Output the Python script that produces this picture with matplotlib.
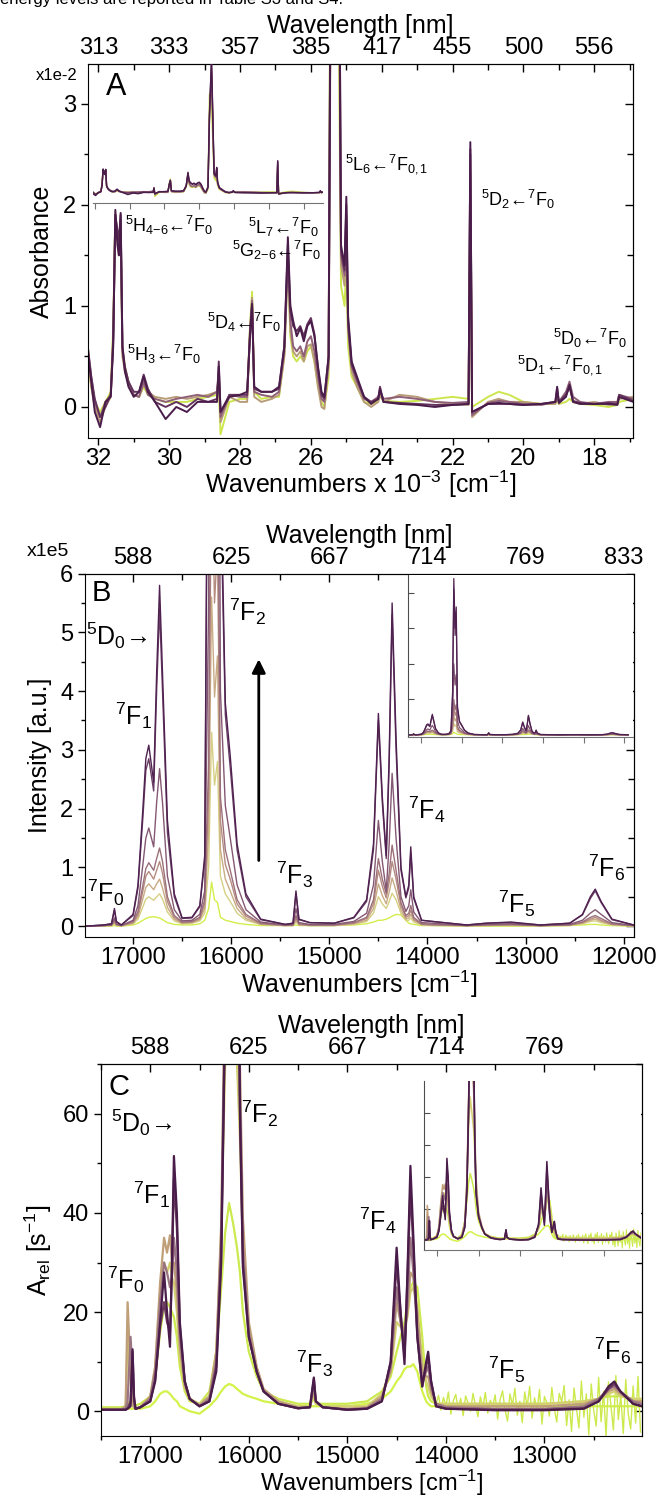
import numpy as np
import matplotlib
matplotlib.use("Agg")
import matplotlib.pyplot as plt
from matplotlib.ticker import MultipleLocator, NullLocator

plt.rcParams['font.family'] = ['Liberation Sans', 'DejaVu Sans']
plt.rcParams['mathtext.fontset'] = 'custom'
plt.rcParams['mathtext.rm'] = 'Liberation Sans'
plt.rcParams['mathtext.it'] = 'Liberation Sans:italic'
plt.rcParams['mathtext.bf'] = 'Liberation Sans:bold'

# ---------------- panel A: absorbance (x1e-2), wavenumber x 1e-3 ----------------
a_wn = [32.3, 32.2, 32.1, 31.95, 31.8, 31.65, 31.58, 31.52,
        31.46, 31.42, 31.37, 31.32, 31.25, 31.15, 31.0, 30.85,
        30.72, 30.6, 30.4, 30.1, 29.8, 29.5, 29.2, 28.9,
        28.65, 28.6, 28.55, 28.3, 28.0, 27.8, 27.72, 27.66,
        27.6, 27.4, 27.1, 26.9, 26.75, 26.65, 26.58, 26.5,
        26.4, 26.3, 26.2, 26.1, 26.0, 25.9, 25.8, 25.7,
        25.62, 25.5, 25.42, 25.3, 25.22, 25.15, 25.05, 25.0,
        24.95, 24.85, 24.7, 24.5, 24.3, 24.1, 24.05, 23.95,
        23.5, 23.0, 22.5, 22.0, 21.55, 21.5, 21.45, 21.0,
        20.7, 20.4, 20.0, 19.5, 19.1, 19.05, 19.0, 18.8,
        18.7, 18.6, 18.4, 18.0, 17.6, 17.35, 17.3, 16.9]

a_yellow = [0.5, 0.2, 0.05, -0.05, 0.05, 0.15, 0.8, 1.9,
            1.7, 1.6, 1.75, 0.55, 0.4, 0.25, 0.12, 0.1,
            0.2, 0.12, 0.08, 0.05, 0.05, 0.05, 0.08, 0.1,
            0.12, 0.2, -0.27, 0.05, 0.08, 0.08, 0.8, 1.14,
            0.15, 0.08, 0.1, 0.1, 0.5, 1.45, 0.7, 0.5,
            0.45, 0.5, 0.45, 0.55, 0.6, 0.45, 0.2, 0.05,
            0.0, 0.3, 8.0, 7.0, 4.0, 1.2, 1.0, 1.4,
            0.6, 0.3, 0.2, 0.05, 0.03, 0.06, 0.12, 0.06,
            0.05, 0.06, 0.08, 0.1, 0.08, 2.0, 0.0, 0.1,
            0.15, 0.12, 0.05, 0.03, 0.03, 0.08, 0.03, 0.05,
            0.08, 0.05, 0.03, 0.02, 0.0, 0.02, 0.05, 0.08]
a_tan = [0.5, 0.2, 0.0, -0.15, 0.0, 0.1, 0.7, 1.85,
         1.65, 1.5, 1.8, 0.5, 0.35, 0.25, 0.12, 0.1,
         0.22, 0.15, 0.1, 0.08, 0.1, 0.08, 0.1, 0.12,
         0.15, 0.35, -0.15, 0.1, 0.05, 0.05, 0.75, 1.08,
         0.1, 0.05, 0.08, 0.12, 0.5, 1.45, 0.75, 0.55,
         0.5, 0.55, 0.45, 0.6, 0.62, 0.45, 0.2, 0.0,
         -0.02, 0.4, 5.5, 9.5, 5.0, 1.4, 1.2, 1.7,
         0.75, 0.35, 0.2, 0.05, 0.0, 0.05, 0.12, 0.05,
         0.12, 0.1, 0.05, 0.03, 0.02, 2.3, -0.1, 0.05,
         0.08, 0.05, 0.05, 0.03, 0.03, 0.1, 0.03, 0.12,
         0.2, 0.05, 0.03, 0.05, 0.02, 0.03, 0.08, 0.1]
a_mauve = [0.6, 0.3, 0.05, -0.1, 0.05, 0.12, 0.7, 1.9,
           1.7, 1.55, 1.85, 0.55, 0.38, 0.25, 0.12, 0.1,
           0.25, 0.12, 0.08, 0.05, 0.08, 0.1, 0.12, 0.1,
           0.15, 0.3, -0.1, 0.12, 0.1, 0.1, 0.75, 1.05,
           0.15, 0.12, 0.1, 0.15, 0.55, 1.5, 0.85, 0.6,
           0.55, 0.6, 0.5, 0.65, 0.7, 0.55, 0.3, 0.08,
           0.05, 0.45, 6.0, 10.0, 5.5, 1.5, 1.3, 1.9,
           0.8, 0.4, 0.25, 0.08, 0.05, 0.1, 0.15, 0.08,
           0.1, 0.08, 0.05, 0.04, 0.05, 2.5, -0.08, 0.04,
           0.06, 0.05, 0.03, 0.02, 0.05, 0.12, 0.05, 0.15,
           0.25, 0.1, 0.05, 0.03, 0.05, 0.05, 0.12, 0.08]
a_plum = [0.6, 0.3, 0.08, -0.1, 0.0, 0.12, 0.65, 1.9,
          1.75, 1.65, 1.9, 0.6, 0.4, 0.25, 0.15, 0.15,
          0.32, 0.18, 0.05, 0.0, 0.05, 0.0, 0.08, 0.05,
          0.08, 0.45, -0.05, 0.12, 0.12, 0.12, 0.7, 1.0,
          0.18, 0.15, 0.15, 0.18, 0.6, 1.6, 0.95, 0.8,
          0.75, 0.8, 0.7, 0.82, 0.88, 0.72, 0.38, 0.12,
          0.08, 0.5, 6.5, 10.5, 6.0, 1.55, 1.35, 2.0,
          0.85, 0.42, 0.28, 0.1, 0.05, 0.08, 0.2, 0.05,
          0.04, 0.03, 0.02, 0.02, 0.03, 2.55, -0.05, 0.03,
          0.03, 0.03, 0.02, 0.03, 0.05, 0.18, 0.05, 0.12,
          0.2, 0.06, 0.04, 0.03, 0.04, 0.03, 0.12, 0.06]
a_dark = [0.55, 0.25, -0.05, -0.2, 0.05, 0.1, 0.6, 1.95,
          1.6, 1.5, 1.92, 0.6, 0.35, 0.2, 0.1, 0.15,
          0.3, 0.15, 0.05, -0.12, 0.0, -0.05, 0.05, 0.05,
          0.05, 0.4, -0.05, 0.1, 0.12, 0.15, 0.7, 1.02,
          0.2, 0.15, 0.15, 0.2, 0.6, 1.68, 1.0, 0.85,
          0.7, 0.78, 0.65, 0.8, 0.85, 0.7, 0.4, 0.15,
          0.1, 0.5, 6.0, 11.0, 6.0, 1.6, 1.4, 2.08,
          0.9, 0.45, 0.3, 0.1, 0.03, 0.08, 0.18, 0.05,
          0.03, 0.02, 0.0, 0.02, 0.03, 2.62, -0.05, 0.03,
          0.04, 0.03, 0.02, 0.03, 0.05, 0.2, 0.04, 0.1,
          0.22, 0.05, 0.03, 0.03, 0.03, 0.02, 0.1, 0.05]
a_series = [a_yellow, a_tan, a_mauve, a_plum, a_dark]
a_colors = ['#cde64e', '#b89c78', '#8e5f76', '#63335c', '#4a1c4a']
a_ticks = [32, 30, 28, 26, 24, 22, 20, 18]
a_nm = ['313', '333', '357', '385', '417', '455', '500', '556']

# ---------------- panel B: emission intensity (x1e5) ----------------
b_wn = [17480, 17300, 17220, 17190, 17170, 17120, 17000, 16950,
        16900, 16870, 16840, 16790, 16760, 16730, 16700, 16650,
        16580, 16500, 16400, 16320, 16270, 16230, 16200, 16170,
        16140, 16110, 16060, 16010, 15940, 15850, 15700, 15450,
        15370, 15340, 15310, 15200, 14950, 14750, 14620, 14550,
        14500, 14460, 14420, 14390, 14360, 14320, 14270, 14220,
        14190, 14170, 14140, 14060, 13950, 13600, 13400, 13150,
        12850, 12550, 12420, 12340, 12290, 12230, 12120, 11900]

b_1 = [0.0, 0.0, 0.0, 0.01, 0.0, 0.0, 0.02, 0.05,
       0.1, 0.13, 0.15, 0.16, 0.15, 0.14, 0.11, 0.06,
       0.03, 0.02, 0.02, 0.04, 0.1, 0.3, 0.75, 0.45,
       0.4, 0.15, 0.1, 0.08, 0.05, 0.03, 0.01, 0.01,
       0.01, 0.02, 0.01, 0.01, 0.01, 0.02, 0.04, 0.07,
       0.1, 0.1, 0.12, 0.14, 0.17, 0.2, 0.19, 0.1,
       0.05, 0.04, 0.03, 0.01, 0.01, 0.0, 0.0, 0.0,
       0.0, 0.01, 0.02, 0.03, 0.03, 0.02, 0.01, 0.0]
b_2 = [0.0, 0.0, 0.01, 0.04, 0.01, 0.0, 0.04, 0.12,
       0.33, 0.46, 0.5, 0.44, 0.5, 0.55, 0.46, 0.24,
       0.09, 0.04, 0.05, 0.09, 0.22, 1.0, 3.3, 2.4,
       2.8, 0.85, 0.55, 0.42, 0.22, 0.1, 0.03, 0.01,
       0.01, 0.07, 0.02, 0.01, 0.01, 0.03, 0.08, 0.22,
       0.5, 0.38, 0.3, 0.42, 0.56, 0.45, 0.22, 0.1,
       0.1, 0.14, 0.07, 0.02, 0.01, 0.0, 0.01, 0.01,
       0.0, 0.01, 0.04, 0.08, 0.09, 0.06, 0.02, 0.0]
b_3 = [0.0, 0.01, 0.01, 0.06, 0.02, 0.01, 0.05, 0.16,
       0.47, 0.66, 0.72, 0.62, 0.72, 0.8, 0.65, 0.32,
       0.12, 0.05, 0.06, 0.11, 0.3, 1.6, 5.6, 3.9,
       4.6, 1.3, 0.8, 0.6, 0.3, 0.13, 0.03, 0.01,
       0.01, 0.1, 0.02, 0.01, 0.01, 0.04, 0.1, 0.3,
       0.72, 0.52, 0.38, 0.58, 0.82, 0.6, 0.28, 0.12,
       0.14, 0.2, 0.1, 0.03, 0.02, 0.01, 0.01, 0.02,
       0.01, 0.02, 0.05, 0.1, 0.12, 0.08, 0.03, 0.01]
b_4 = [0.0, 0.01, 0.02, 0.08, 0.02, 0.01, 0.06, 0.2,
       0.6, 0.85, 0.93, 0.8, 0.95, 1.1, 0.9, 0.42,
       0.15, 0.06, 0.07, 0.13, 0.38, 2.2, 8.0, 5.5,
       6.5, 1.8, 1.05, 0.8, 0.38, 0.17, 0.04, 0.01,
       0.02, 0.14, 0.03, 0.02, 0.02, 0.05, 0.13, 0.38,
       0.95, 0.68, 0.48, 0.75, 1.1, 0.8, 0.35, 0.15,
       0.18, 0.27, 0.12, 0.03, 0.02, 0.01, 0.02, 0.02,
       0.01, 0.02, 0.06, 0.12, 0.15, 0.1, 0.03, 0.01]
b_5 = [0.0, 0.01, 0.02, 0.1, 0.03, 0.01, 0.08, 0.25,
       0.7, 0.98, 1.08, 0.95, 1.15, 1.33, 1.1, 0.5,
       0.18, 0.07, 0.08, 0.15, 0.45, 2.8, 10.0, 7.0,
       8.5, 2.2, 1.3, 0.95, 0.45, 0.2, 0.05, 0.02,
       0.02, 0.18, 0.04, 0.02, 0.02, 0.06, 0.15, 0.45,
       1.15, 0.8, 0.55, 0.9, 1.38, 0.95, 0.4, 0.18,
       0.22, 0.35, 0.15, 0.04, 0.03, 0.01, 0.02, 0.03,
       0.01, 0.02, 0.07, 0.15, 0.18, 0.13, 0.04, 0.01]
b_6 = [0.0, 0.01, 0.02, 0.14, 0.04, 0.01, 0.1, 0.35,
       1.05, 1.5, 1.67, 1.35, 2.1, 2.68, 2.1, 0.85,
       0.28, 0.09, 0.1, 0.2, 0.6, 5.5, 20.0, 14.0,
       17.0, 4.0, 2.05, 1.5, 0.7, 0.28, 0.07, 0.02,
       0.03, 0.3, 0.06, 0.03, 0.03, 0.08, 0.22, 0.7,
       1.8, 1.1, 0.6, 1.4, 2.6, 1.5, 0.5, 0.25,
       0.35, 0.62, 0.24, 0.06, 0.05, 0.01, 0.03, 0.04,
       0.01, 0.03, 0.1, 0.22, 0.28, 0.2, 0.06, 0.01]
b_7 = [0.0, 0.02, 0.04, 0.27, 0.07, 0.02, 0.18, 0.65,
       1.85, 2.65, 2.85, 2.3, 4.0, 5.4, 4.0, 1.6,
       0.5, 0.13, 0.14, 0.33, 1.1, 11.0, 41.0, 28.0,
       33.0, 7.5, 3.6, 2.7, 1.3, 0.5, 0.11, 0.03,
       0.05, 0.55, 0.11, 0.06, 0.05, 0.14, 0.42, 1.3,
       3.5, 2.1, 1.15, 2.75, 5.3, 3.0, 0.95, 0.48,
       0.65, 1.25, 0.47, 0.1, 0.08, 0.02, 0.05, 0.06,
       0.02, 0.05, 0.19, 0.47, 0.6, 0.4, 0.11, 0.02]
b_8 = [0.0, 0.02, 0.04, 0.3, 0.08, 0.02, 0.2, 0.7,
       2.0, 2.85, 3.08, 2.45, 4.3, 5.8, 4.3, 1.8,
       0.55, 0.14, 0.15, 0.35, 1.2, 12.0, 44.0, 30.0,
       36.0, 8.0, 3.8, 2.9, 1.4, 0.55, 0.12, 0.03,
       0.05, 0.6, 0.12, 0.06, 0.05, 0.15, 0.45, 1.4,
       3.62, 2.2, 1.2, 2.9, 5.5, 3.2, 1.0, 0.5,
       0.7, 1.35, 0.5, 0.1, 0.08, 0.02, 0.05, 0.07,
       0.02, 0.05, 0.2, 0.5, 0.63, 0.42, 0.12, 0.02]
b_series = [b_1, b_2, b_3, b_4, b_5, b_6, b_7, b_8]
b_colors = ['#d3ee4c', '#d6cf84', '#c9ab84', '#b58c80', '#9c707a', '#845872', '#6a3e64', '#4f2150']
b_ticks = [17000, 16000, 15000, 14000, 13000, 12000]
b_nm = ['588', '625', '667', '714', '769', '833']

# ---------------- panel C: relative radiative rates ----------------
c_wn = [17500, 17300, 17250, 17230, 17200, 17180, 17165, 17150,
        17100, 17000, 16950, 16900, 16860, 16830, 16800, 16780,
        16760, 16730, 16700, 16650, 16600, 16500, 16400, 16330,
        16280, 16240, 16200, 16160, 16120, 16090, 16060, 16000,
        15920, 15850, 15700, 15500, 15380, 15340, 15320, 15250,
        15000, 14800, 14650, 14560, 14500, 14460, 14420, 14390,
        14360, 14330, 14290, 14240, 14200, 14180, 14150, 14100,
        14000, 13500, 13000, 12600, 12450, 12350, 12290, 12230,
        12100, 12010]

c_low = [0.5, 0.5, 0.5, 0.5, 0.5, 0.5, 0.5, 0.5,
         0.5, 1.0, 2.0, 3.5, 4.0, 4.0, 3.5, 3.0,
         2.5, 2.0, 1.0, 0.5, 0.0, -0.5, 1.0, 2.5,
         4.0, 5.0, 5.5, 5.2, 4.5, 4.0, 3.5, 3.0,
         2.5, 2.0, 1.5, 1.0, 1.0, 1.0, 1.0, 1.0,
         1.0, 1.5, 2.5, 4.0, 6.0, 7.0, 8.5, 9.0,
         9.0, 9.5, 8.0, 4.0, 2.0, 1.5, 1.0, 1.0,
         1.0, 1.0, 1.0, 1.0, 1.0, 1.0, 1.0, 1.0,
         1.0, 1.0]
c_yellow = [0.8, 0.8, 1.0, 1.5, 2.0, 2.0, 1.5, 1.2,
            1.5, 3.0, 7.0, 16.0, 21.0, 22.0, 21.0, 20.0,
            19.0, 15.0, 9.0, 4.0, 2.0, 1.5, 4.0, 12.0,
            25.0, 36.0, 42.0, 38.0, 33.0, 28.0, 20.0, 12.0,
            7.0, 4.0, 2.5, 1.5, 1.5, 2.5, 1.5, 1.5,
            1.5, 2.0, 4.0, 7.0, 12.0, 15.0, 18.0, 22.0,
            25.0, 26.0, 25.0, 15.0, 5.0, 3.0, 2.0, 1.5,
            1.5, 1.5, 1.5, 2.0, 2.5, 3.0, 3.0, 3.0,
            2.5, 2.0]
c_light = [0.5, 0.5, 0.8, 15.0, 6.0, 1.0, 0.8, 0.5,
           0.8, 3.0, 9.0, 24.0, 30.0, 28.0, 30.0, 27.0,
           26.0, 20.0, 11.0, 5.0, 2.5, 1.5, 3.0, 12.0,
           36.0, 70.0, 90.0, 80.0, 70.0, 55.0, 33.0, 16.0,
           8.0, 4.0, 2.0, 1.0, 1.0, 3.5, 1.5, 1.0,
           1.0, 1.0, 3.5, 8.0, 18.0, 17.0, 17.0, 19.0,
           24.0, 25.0, 21.0, 10.0, 6.0, 5.0, 3.0, 1.5,
           1.5, 1.5, 1.5, 2.0, 2.5, 3.5, 4.0, 3.0,
           2.5, 2.5]
c_tan = [0.3, 0.3, 1.0, 22.0, 8.0, 1.5, 0.8, 0.5,
         0.8, 3.0, 9.0, 26.0, 35.0, 32.0, 35.5, 30.0,
         30.0, 24.0, 13.0, 5.0, 2.5, 1.2, 3.0, 12.0,
         38.0, 90.0, 130.0, 110.0, 95.0, 70.0, 39.0, 18.0,
         9.0, 4.5, 2.0, 0.8, 0.8, 4.5, 2.0, 0.8,
         0.5, 0.8, 3.0, 8.0, 22.0, 18.0, 16.0, 20.0,
         28.0, 27.0, 20.0, 8.0, 7.0, 7.0, 4.0, 1.5,
         1.0, 1.0, 1.0, 1.5, 2.5, 4.0, 4.5, 3.5,
         2.0, 2.0]
c_mauve = [0.3, 0.3, 0.5, 2.0, 15.0, 8.0, 2.0, 0.5,
           0.8, 2.5, 8.0, 22.0, 30.0, 28.0, 25.0, 27.0,
           35.0, 28.0, 15.0, 6.0, 2.5, 1.0, 2.5, 10.0,
           35.0, 85.0, 140.0, 115.0, 110.0, 65.0, 33.0, 16.0,
           8.0, 4.0, 1.5, 0.6, 0.8, 5.5, 2.0, 0.8,
           0.3, 0.6, 2.5, 9.0, 25.0, 18.0, 13.0, 22.0,
           35.0, 28.0, 16.0, 6.0, 8.0, 9.0, 5.0, 1.5,
           0.8, 0.5, 0.5, 1.0, 2.5, 4.5, 5.0, 4.0,
           2.0, 1.5]
c_plum = [0.3, 0.3, 0.3, 0.6, 2.0, 12.0, 2.5, 0.5,
          0.8, 2.0, 6.5, 17.0, 22.0, 18.0, 16.0, 28.0,
          47.0, 37.0, 17.0, 6.0, 2.5, 1.0, 2.0, 9.0,
          32.0, 82.0, 145.0, 118.0, 125.0, 62.0, 30.0, 15.0,
          8.0, 4.0, 1.5, 0.6, 0.8, 6.5, 2.0, 0.8,
          0.3, 0.5, 2.0, 10.0, 30.0, 20.0, 11.0, 27.0,
          45.0, 33.0, 15.0, 5.0, 9.0, 11.0, 6.0, 1.0,
          0.5, 0.3, 0.3, 0.6, 2.0, 4.5, 5.5, 4.0,
          1.5, 1.0]
c_dark = [0.3, 0.3, 0.3, 0.5, 1.0, 12.5, 3.0, 0.5,
          0.8, 2.0, 6.0, 18.0, 28.0, 20.0, 13.0, 30.0,
          51.5, 40.0, 18.0, 6.0, 2.5, 1.0, 2.0, 8.0,
          30.0, 80.0, 150.0, 120.0, 130.0, 60.0, 29.0, 15.0,
          8.0, 4.0, 1.5, 0.6, 0.8, 6.8, 2.0, 0.8,
          0.3, 0.5, 2.0, 10.0, 33.0, 20.0, 9.5, 28.0,
          49.5, 35.0, 15.0, 5.0, 10.0, 12.0, 6.0, 1.0,
          0.5, 0.2, 0.2, 0.5, 2.0, 5.0, 6.0, 4.0,
          1.5, 1.0]
c_series = [c_low, c_yellow, c_light, c_tan, c_mauve, c_plum, c_dark]
c_colors = ['#d3f24a', '#cce94e', '#d4cf72', '#bf9e78', '#9a7482', '#6b3a60', '#4a1c4a']
# noisy tail of the weakest (yellow) spectrum
c_noise_wn = np.arange(14100, 12000, -25)
c_noise = [1.5, 3.2, 0.2, 2.8, 1.0, 3.9, -0.6, 2.1, 3.4, 0.4, 2.6, -0.9, 3.1, 1.7, 0.0,
           3.6, 1.2, -1.1, 2.9, 0.7, 3.8, -0.4, 2.2, 1.0, 3.3,
           -1.6, 2.4, 4.1, 0.3, -2.0, 3.5, 1.2, 4.6, -0.8, 2.0, -2.3, 3.9, 0.9, 5.0,
           -1.4, 2.7, 0.1, 4.4, -2.6, 3.0, 1.6, -1.0, 4.8, 0.5, -2.2, 3.6, 1.9, 5.2,
           -2.9, 2.3, -4.1, 4.7, 0.6, -3.4, 6.1, -1.2, 3.5, -4.8, 5.5, 0.2, -3.0, 6.8,
           -2.1, 4.0, -5.0, 5.9, 1.1, -3.8, 7.2, -1.7, 3.3, -4.5, 6.4, -0.5, -3.6, 5.1,
           -2.4, 7.0, -4.2]
c_ticks = [17000, 16000, 15000, 14000, 13000]
c_nm = ['588', '625', '667', '714', '769']

W, H = 661, 1495
fig = plt.figure(figsize=(W / 100, H / 100), dpi=100)

LARR = '←'
RARR = '→'


def rect(l, t, r, b):
    return [l / W, 1 - b / H, (r - l) / W, (b - t) / H]


def style(ax, ticks, nm, xminor, ymajor, yminor, fs=17):
    ax.set_xticks(ticks)
    ax.xaxis.set_minor_locator(MultipleLocator(xminor))
    ax.yaxis.set_major_locator(MultipleLocator(ymajor))
    ax.yaxis.set_minor_locator(MultipleLocator(yminor))
    ax.tick_params(which='both', direction='out', labelsize=fs, width=1)
    ax.tick_params(which='major', length=5)
    ax.tick_params(which='minor', length=3)
    ax.tick_params(axis='x', pad=2)
    top = ax.secondary_xaxis('top')
    top.set_xticks(ticks, labels=nm)
    top.xaxis.set_minor_locator(MultipleLocator(xminor))
    top.tick_params(which='both', direction='in', labelsize=fs, width=1)
    top.tick_params(which='major', length=6)
    top.tick_params(which='minor', length=4)
    top.set_xlabel('Wavelength [nm]', fontsize=18, labelpad=3)
    right = ax.secondary_yaxis('right')
    right.yaxis.set_major_locator(MultipleLocator(ymajor))
    right.yaxis.set_minor_locator(MultipleLocator(yminor))
    right.tick_params(which='both', direction='in', labelright=False, width=1)
    right.tick_params(which='major', length=6)
    right.tick_params(which='minor', length=4)


def inset_style(ins, ticks, yticks=None):
    for s in ['top', 'right']:
        ins.spines[s].set_visible(False)
    ins.spines['bottom'].set_color('0.45')
    ins.set_xticks(ticks)
    ins.xaxis.set_minor_locator(NullLocator())
    ins.tick_params(axis='x', direction='out', length=4, color='0.45', labelbottom=False)
    if yticks is None:
        ins.spines['left'].set_visible(False)
        ins.set_yticks([])
    else:
        ins.spines['left'].set_color('0.3')
        ins.set_yticks(yticks)
        ins.tick_params(axis='y', direction='in', length=4, color='0.3', labelleft=False)


# ---------------- A ----------------
axA = fig.add_axes(rect(87.7, 64.3, 633.3, 438.3))
for ys, c in zip(a_series, a_colors):
    axA.plot(a_wn, ys, color=c, lw=1.4)
axA.set_xlim(32.3, 16.9)
axA.set_ylim(-0.31, 3.39)
style(axA, a_ticks, a_nm, 1, 1, 0.5)
axA.set_ylabel('Absorbance', fontsize=18, labelpad=6)
axA.set_xlabel(r'Wavenumbers x 10$^{-3}$ [cm$^{-1}$]', fontsize=18, labelpad=-1)
axA.text(31.5, 3.17, 'A', fontsize=22, ha='center', va='center')
fig.text(57 / W, 1 - 75 / H, 'x1e-2', fontsize=12, ha='center', va='center')
fsA = 13
axA.text(30.0, 1.80, r'$^5$H$_{4\mathrm{-}6}$' + LARR + r'$^7$F$_0$', fontsize=fsA, ha='center', va='center')
axA.text(26.78, 1.78, r'$^5$L$_7$' + LARR + r'$^7$F$_0$', fontsize=fsA, ha='center', va='center')
axA.text(26.98, 1.55, r'$^5$G$_{2\mathrm{-}6}$' + LARR + r'$^7$F$_0$', fontsize=fsA, ha='center', va='center')
axA.text(27.88, 0.84, r'$^5$D$_4$' + LARR + r'$^7$F$_0$', fontsize=fsA, ha='center', va='center')
axA.text(30.14, 0.52, r'$^5$H$_3$' + LARR + r'$^7$F$_0$', fontsize=fsA, ha='center', va='center')
axA.text(23.87, 2.40, r'$^5$L$_6$' + LARR + r'$^7$F$_{0,1}$', fontsize=fsA, ha='center', va='center')
axA.text(20.15, 2.05, r'$^5$D$_2$' + LARR + r'$^7$F$_0$', fontsize=fsA, ha='center', va='center')
axA.text(18.12, 0.68, r'$^5$D$_0$' + LARR + r'$^7$F$_0$', fontsize=fsA, ha='center', va='center')
axA.text(18.97, 0.42, r'$^5$D$_1$' + LARR + r'$^7$F$_{0,1}$', fontsize=fsA, ha='center', va='center')

insA = fig.add_axes(rect(93, 64.3, 323, 203))
insA.patch.set_alpha(0)
for ys, c in zip(a_series, a_colors):
    insA.plot(a_wn, ys, color=c, lw=1.0)
insA.set_xlim(32.1, 18.9)
insA.set_ylim(-0.8, 10.4)
inset_style(insA, [32, 30, 28, 26, 24, 22, 20])

# ---------------- B ----------------
axB = fig.add_axes(rect(85, 573.6, 634, 937.3))
for ys, c in zip(b_series, b_colors):
    axB.plot(b_wn, ys, color=c, lw=1.0)
axB.set_xlim(17490, 11895)
axB.set_ylim(-0.19, 6.0)
style(axB, b_ticks, b_nm, 500, 1, 0.5)
axB.set_ylabel('Intensity [a.u.]', fontsize=18, labelpad=6)
axB.set_xlabel(r'Wavenumbers [cm$^{-1}$]', fontsize=18, labelpad=0)
fig.text(48 / W, 1 - 552 / H, 'x1e5', fontsize=14, ha='center', va='center')
fsB = 18
axB.text(17327, 5.67, 'B', fontsize=21, ha='center', va='center')
axB.text(17170, 4.95, r'$^5$D$_0$' + RARR, fontsize=fsB, ha='center', va='center')
axB.text(17000, 3.58, r'$^7$F$_1$', fontsize=fsB, ha='center', va='center')
axB.text(15830, 5.35, r'$^7$F$_2$', fontsize=fsB, ha='center', va='center')
axB.text(17281, 0.57, r'$^7$F$_0$', fontsize=fsB, ha='center', va='center')
axB.text(15352, 0.87, r'$^7$F$_3$', fontsize=fsB, ha='center', va='center')
axB.text(14012, 1.98, r'$^7$F$_4$', fontsize=fsB, ha='center', va='center')
axB.text(13094, 0.375, r'$^7$F$_5$', fontsize=fsB, ha='center', va='center')
axB.text(12176, 1.0, r'$^7$F$_6$', fontsize=fsB, ha='center', va='center')
axB.annotate('', xy=(15719, 4.59), xytext=(15719, 1.07),
             arrowprops=dict(arrowstyle='-|>', color='black', lw=2, mutation_scale=20))

insB = fig.add_axes(rect(408, 575, 633, 737))
insB.patch.set_facecolor('white')
for ys, c in zip(b_series, b_colors):
    insB.plot(b_wn, ys, color=c, lw=0.9)
insB.set_xlim(17330, 11780)
insB.set_ylim(-0.6, 45)
inset_style(insB, b_ticks, [0, 10, 20, 30, 40])

# ---------------- C ----------------
axC = fig.add_axes(rect(101, 1064.3, 642, 1436))
for ys, c in zip(c_series[:2], c_colors[:2]):
    axC.plot(c_wn, ys, color=c, lw=1.6)
axC.plot(c_noise_wn, c_noise, color='#cce94e', lw=1.0)
for ys, c in zip(c_series[2:], c_colors[2:]):
    axC.plot(c_wn, ys, color=c, lw=1.6)
axC.set_xlim(17500, 12010)
axC.set_ylim(-5, 70)
style(axC, c_ticks, c_nm, 500, 20, 10)
axC.set_ylabel(r'A$_\mathrm{rel}$ [s$^{-1}$]', fontsize=18, labelpad=6)
axC.set_xlabel(r'Wavenumbers [cm$^{-1}$]', fontsize=17, labelpad=0)
axC.text(17314, 65.5, 'C', fontsize=21, ha='center', va='center')
axC.text(17086, 58.2, r'$^5$D$_0$' + RARR, fontsize=fsB, ha='center', va='center')
axC.text(15895, 60, r'$^7$F$_2$', fontsize=fsB, ha='center', va='center')
axC.text(16991, 43.7, r'$^7$F$_1$', fontsize=fsB, ha='center', va='center')
axC.text(17252, 26.5, r'$^7$F$_0$', fontsize=fsB, ha='center', va='center')
axC.text(15330, 9.6, r'$^7$F$_3$', fontsize=fsB, ha='center', va='center')
axC.text(14689, 38.4, r'$^7$F$_4$', fontsize=fsB, ha='center', va='center')
axC.text(13388, 8.4, r'$^7$F$_5$', fontsize=fsB, ha='center', va='center')
axC.text(12313, 12.2, r'$^7$F$_6$', fontsize=fsB, ha='center', va='center')

insC = fig.add_axes(rect(424, 1081, 641, 1250))
insC.patch.set_facecolor('white')
for ys, c in zip(c_series[:2], c_colors[:2]):
    insC.plot(c_wn, ys, color=c, lw=1.1)
insC.plot(c_noise_wn, c_noise, color='#cce94e', lw=0.8)
for ys, c in zip(c_series[2:], c_colors[2:]):
    insC.plot(c_wn, ys, color=c, lw=1.1)
insC.set_xlim(17310, 12100)
insC.set_ylim(-6, 100)
inset_style(insC, c_ticks, [0, 20, 40, 60, 80])

fig.text(0.0, 1 - 4 / H, 'energy levels are reported in Table S3 and S4.', fontsize=12,
         ha='left', va='baseline')

fig.savefig('out.png', dpi=100)
